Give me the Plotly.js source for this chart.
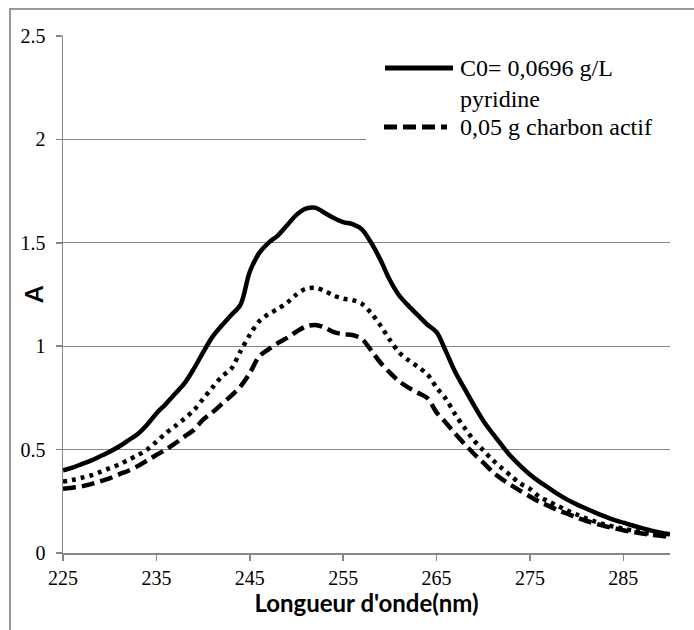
<!DOCTYPE html>
<html>
<head>
<meta charset="utf-8">
<script src="https://cdn.plot.ly/plotly-3.0.1.min.js"></script>
<style>html,body{margin:0;padding:0;background:#fff;}#chart{width:694px;height:630px;}</style>
</head>
<body>
<div id="chart"></div>
<script>
// Wavelength (nm)
var wavelength = [225,226,227,228,229,230,231,232,233,234,235,236,237,238,239,240,241,242,243,244,245,246,247,248,249,250,251,252,253,254,255,256,257,258,259,260,261,262,263,264,265,266,267,268,269,270,271,272,273,274,275,276,277,278,279,280,281,282,283,284,285,286,287,288,289,290];
// C0 = 0,0696 g/L pyridine (solid)
var absInitial = [0.40,0.413,0.43,0.447,0.468,0.49,0.515,0.545,0.575,0.62,0.675,0.72,0.77,0.82,0.89,0.97,1.045,1.10,1.15,1.20,1.36,1.45,1.50,1.535,1.585,1.635,1.665,1.67,1.645,1.62,1.60,1.59,1.565,1.50,1.417,1.32,1.245,1.195,1.15,1.105,1.068,0.975,0.875,0.795,0.715,0.64,0.578,0.52,0.465,0.42,0.38,0.345,0.315,0.285,0.258,0.235,0.215,0.195,0.177,0.16,0.147,0.133,0.12,0.108,0.098,0.09];
// unlabelled dotted series
var absDotted = [0.345,0.353,0.364,0.375,0.392,0.41,0.428,0.45,0.473,0.50,0.538,0.579,0.613,0.65,0.69,0.745,0.80,0.853,0.89,0.975,1.055,1.12,1.155,1.18,1.21,1.25,1.278,1.282,1.268,1.245,1.23,1.223,1.205,1.16,1.10,1.03,0.97,0.932,0.90,0.865,0.80,0.745,0.67,0.605,0.545,0.497,0.45,0.41,0.372,0.335,0.31,0.272,0.25,0.227,0.205,0.186,0.168,0.152,0.138,0.127,0.117,0.108,0.10,0.093,0.088,0.083];
// 0,05 g charbon actif (dashed)
var absCharbon = [0.31,0.316,0.322,0.333,0.347,0.361,0.38,0.398,0.42,0.447,0.474,0.50,0.53,0.563,0.595,0.645,0.68,0.72,0.76,0.805,0.87,0.95,0.985,1.015,1.04,1.07,1.095,1.103,1.09,1.068,1.058,1.054,1.035,0.98,0.92,0.872,0.83,0.80,0.775,0.75,0.68,0.63,0.577,0.527,0.48,0.437,0.393,0.357,0.327,0.30,0.273,0.248,0.228,0.207,0.19,0.172,0.156,0.142,0.13,0.12,0.11,0.102,0.094,0.088,0.083,0.078];
var xTicks = [225,235,245,255,265,275,285];
var yTicks = [0,0.5,1,1.5,2,2.5];
var legendLabels = ["C0= 0,0696 g/L<br>pyridine", "0,05 g charbon actif"];

var traces = [
  {x: wavelength, y: absInitial, mode: "lines", name: "C0= 0,0696 g/L pyridine", showlegend: false,
   line: {color: "#000", width: 4.5, shape: "spline", smoothing: 0.9}},
  {x: wavelength, y: absDotted, mode: "lines", name: "dotted", showlegend: false,
   line: {color: "#000", width: 4.5, dash: "4px,5px", shape: "spline", smoothing: 0.9}},
  {x: wavelength, y: absCharbon, mode: "lines", name: "0,05 g charbon actif", showlegend: false,
   line: {color: "#000", width: 4.5, dash: "13px,6px", shape: "spline", smoothing: 0.9}}
];

function px(xp){ return (xp-63)/607; }
function py(yp){ return (553-yp)/517; }

var layout = {
  width: 694, height: 630,
  margin: {l: 63, r: 24, t: 36, b: 77, pad: 0},
  paper_bgcolor: "#fff", plot_bgcolor: "#fff",
  font: {family: "Liberation Serif", size: 20, color: "#000"},
  showlegend: false,
  xaxis: {
    range: [225, 290], tickvals: xTicks, ticktext: xTicks.map(String),
    showgrid: false, zeroline: false, showline: true, linecolor: "#868686", linewidth: 1.5,
    ticks: "outside", ticklen: 6, tickwidth: 1.5, tickcolor: "#868686",
    tickfont: {family: "Liberation Serif", size: 20, color: "#000"},
    title: {text: "<b>Longueur d'onde(nm)</b>", font: {family: "Lato", size: 24, color: "#000"}, standoff: 4}
  },
  yaxis: {
    range: [0, 2.5], tickvals: yTicks, ticktext: yTicks.map(String),
    showgrid: true, gridcolor: "#868686", gridwidth: 1.25, zeroline: false,
    showline: true, linecolor: "#868686", linewidth: 1.5,
    ticks: "outside", ticklen: 6, tickwidth: 1.5, tickcolor: "#868686",
    tickfont: {family: "Liberation Serif", size: 20, color: "#000"}, ticklabelstandoff: 6
  },
  shapes: [
    {type: "rect", xref: "paper", yref: "paper", x0: px(10), x1: px(705), y0: py(9), y1: py(645),
     line: {color: "#999", width: 2}, fillcolor: "rgba(0,0,0,0)", layer: "above"},
    {type: "rect", xref: "paper", yref: "paper", x0: px(366), x1: px(672), y0: py(46), y1: py(150),
     line: {width: 0}, fillcolor: "#fff", layer: "above"},
    {type: "line", xref: "paper", yref: "paper", x0: px(385), x1: px(453), y0: py(68), y1: py(68),
     line: {color: "#000", width: 5}, layer: "above"},
    {type: "line", xref: "paper", yref: "paper", x0: px(384), x1: px(447), y0: py(127), y1: py(127),
     line: {color: "#000", width: 5, dash: "13px,6px"}, layer: "above"}
  ],
  annotations: [
    {xref: "paper", yref: "paper", x: px(33), y: 0.5, text: "<b>A</b>", textangle: -90, showarrow: false,
     xanchor: "center", yanchor: "middle", font: {family: "Lato", size: 24, color: "#000"}},
    {xref: "paper", yref: "paper", x: px(458), y: py(83), text: legendLabels[0], showarrow: false,
     xanchor: "left", yanchor: "middle", align: "left", font: {family: "Liberation Serif", size: 24, color: "#000"}},
    {xref: "paper", yref: "paper", x: px(458), y: py(127), text: legendLabels[1], showarrow: false,
     xanchor: "left", yanchor: "middle", align: "left", font: {family: "Liberation Serif", size: 24, color: "#000"}}
  ]
};

Plotly.newPlot("chart", traces, layout, {displayModeBar: false, staticPlot: true});
</script>
</body>
</html>
